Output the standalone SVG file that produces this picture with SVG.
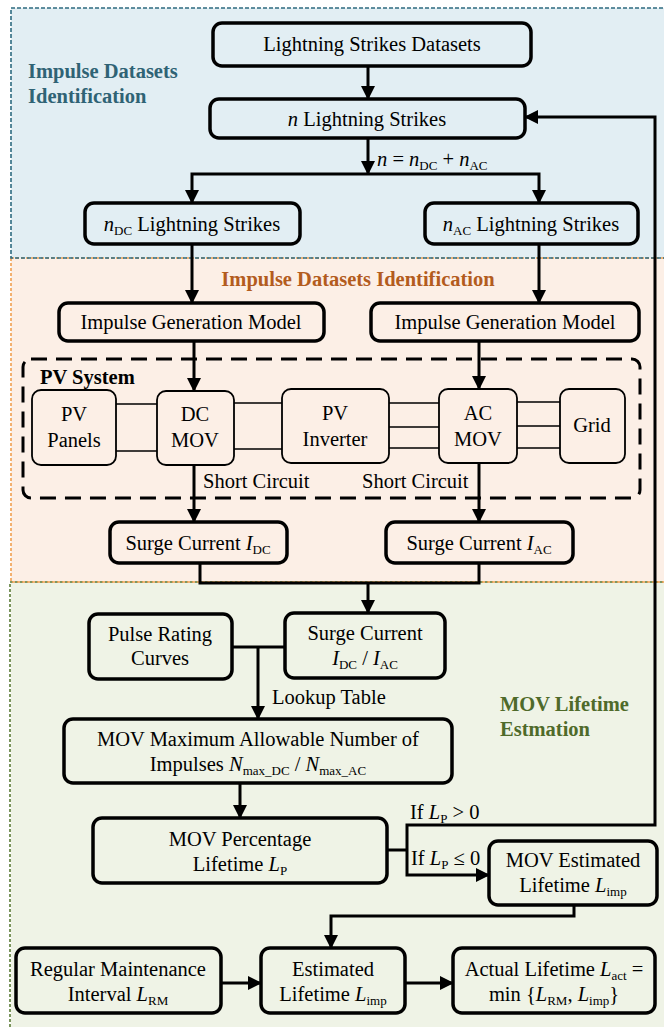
<svg xmlns="http://www.w3.org/2000/svg" width="664" height="1027" viewBox="0 0 664 1027">
<style>
text{font-family:"Liberation Serif","Times New Roman",serif;font-size:20.5px;fill:#000}
.c{text-anchor:middle}
.b{font-weight:bold}
.i{font-style:italic}
.s{font-size:13px}
.node{fill:none;stroke:#000;stroke-width:3.5}
.sub{fill:none;stroke:#000;stroke-width:1.8}
.wire{fill:none;stroke:#000;stroke-width:1.5}
.con{fill:none;stroke:#000;stroke-width:3}
.arr{marker-end:url(#ah)}
</style>
<defs>
<marker id="ah" markerWidth="14" markerHeight="14" refX="13" refY="7" orient="auto" markerUnits="userSpaceOnUse">
<path d="M0,0 L14,7 L0,14 z" fill="#000"/>
</marker>
</defs>
<g id="regions">
<rect x="11" y="8" width="665" height="250" fill="#e2eef3"/>
<rect x="11" y="258" width="665" height="324" fill="#fcefe6"/>
<rect x="11" y="582" width="665" height="460" fill="#eff3e6"/>
<rect x="10" y="582" width="665" height="460" fill="none" stroke="#5a7a35" stroke-width="1.6" stroke-dasharray="3 2"/>
<rect x="11" y="258" width="665" height="324" fill="none" stroke="#f0a050" stroke-width="1.6" stroke-dasharray="3 2"/>
<rect x="11" y="8" width="665" height="250" fill="none" stroke="#2e6b80" stroke-width="1.6" stroke-dasharray="4 2"/>
<text x="28" y="78" class="b" fill="#2f6375" style="fill:#2f6375">Impulse Datasets</text>
<text x="28" y="103" class="b" style="fill:#2f6375">Identification</text>
<text x="358" y="286" class="b c" style="fill:#b35c1e">Impulse Datasets Identification</text>
<text x="500" y="711" class="b" style="fill:#4f6a2a">MOV Lifetime</text>
<text x="500" y="736" class="b" style="fill:#4f6a2a">Estmation</text>
</g>
<g id="connectors">
<path class="con arr" d="M368,66 V99"/>
<path class="con arr" d="M368,138 V174"/>
<path class="con arr" d="M368,174 H192 V203"/>
<path class="con arr" d="M368,174 H539 V203"/>
<path class="con arr" d="M192,244 V303"/>
<path class="con arr" d="M539,244 V303"/>
<path class="con arr" d="M194,341 V391"/>
<path class="con arr" d="M479,341 V389"/>
<path class="con arr" d="M194,465 V522"/>
<path class="con arr" d="M479,463 V522"/>
<path class="con" d="M200,563 V583 H479 V563"/>
<path class="con arr" d="M368,583 V613"/>
<path class="con" d="M232,647 H285"/>
<path class="con arr" d="M258,647 V719"/>
<path class="con arr" d="M240,783 V818"/>
<path class="con" d="M387,850 H407"/>
<path class="con arr" d="M407,850 V825 H655 V117 H525"/>
<path class="con arr" d="M407,850 V875 H489"/>
<path class="con arr" d="M574,905 V916 H331 V948"/>
<path class="con arr" d="M221,983 H261"/>
<path class="con arr" d="M405,983 H453"/>
<path class="wire" d="M116,404 H157 M116,451 H157"/>
<path class="wire" d="M234,403 H282 M234,449 H282"/>
<path class="wire" d="M389,403 H439 M389,427 H439 M389,448 H439"/>
<path class="wire" d="M517,402 H560 M517,426 H560 M517,448 H560"/>
<text x="377" y="166"><tspan class="i">n</tspan> = <tspan class="i">n</tspan><tspan class="s" dy="4">DC</tspan><tspan dy="-4"> + </tspan><tspan class="i">n</tspan><tspan class="s" dy="4">AC</tspan></text>
<text x="203" y="488">Short Circuit</text>
<text x="362" y="488">Short Circuit</text>
<text x="272" y="704">Lookup Table</text>
<text x="410" y="819">If <tspan class="i">L</tspan><tspan class="s" dy="4">P</tspan><tspan dy="-4"> &gt; 0</tspan></text>
<text x="411" y="865">If <tspan class="i">L</tspan><tspan class="s" dy="4">P</tspan><tspan dy="-4"> ≤ 0</tspan></text>
</g>
<g id="n1"><rect class="node" x="213" y="23" width="318" height="43" rx="9"/><text class="c" x="372" y="51">Lightning Strikes Datasets</text></g>
<g id="n2"><rect class="node" x="210" y="99" width="315" height="39" rx="9"/><text class="c" x="367" y="126"><tspan class="i">n</tspan> Lightning Strikes</text></g>
<g id="n3"><rect class="node" x="85" y="203" width="215" height="41" rx="9"/><text class="c" x="192" y="231"><tspan class="i">n</tspan><tspan class="s" dy="4">DC</tspan><tspan dy="-4"> Lightning Strikes</tspan></text></g>
<g id="n4"><rect class="node" x="425" y="203" width="213" height="41" rx="9"/><text class="c" x="531" y="231"><tspan class="i">n</tspan><tspan class="s" dy="4">AC</tspan><tspan dy="-4"> Lightning Strikes</tspan></text></g>
<g id="n5"><rect class="node" x="59" y="303" width="265" height="38" rx="9"/><text class="c" x="191" y="329">Impulse Generation Model</text></g>
<g id="n6"><rect class="node" x="371" y="303" width="268" height="38" rx="9"/><text class="c" x="505" y="329">Impulse Generation Model</text></g>
<g id="pvsystem"><rect x="23" y="359" width="617" height="139" rx="8" fill="none" stroke="#000" stroke-width="3" stroke-dasharray="16 9"/><text class="b" x="40" y="384">PV System</text></g>
<g id="pvpanels"><rect class="sub" x="32" y="390" width="84" height="75" rx="9"/><text class="c" x="74" y="421">PV</text><text class="c" x="74" y="447">Panels</text></g>
<g id="dcmov"><rect class="sub" x="157" y="391" width="77" height="74" rx="9"/><text class="c" x="195" y="421">DC</text><text class="c" x="195" y="447">MOV</text></g>
<g id="inverter"><rect class="sub" x="282" y="389" width="107" height="74" rx="9"/><text class="c" x="335" y="420">PV</text><text class="c" x="335" y="446">Inverter</text></g>
<g id="acmov"><rect class="sub" x="439" y="389" width="78" height="74" rx="9"/><text class="c" x="478" y="420">AC</text><text class="c" x="478" y="446">MOV</text></g>
<g id="grid"><rect class="sub" x="560" y="389" width="65" height="74" rx="9"/><text class="c" x="592" y="432">Grid</text></g>
<g id="n7"><rect class="node" x="110" y="522" width="177" height="41" rx="9"/><text class="c" x="198" y="550">Surge Current <tspan class="i">I</tspan><tspan class="s" dy="4">DC</tspan></text></g>
<g id="n8"><rect class="node" x="386" y="522" width="187" height="41" rx="9"/><text class="c" x="479" y="550">Surge Current <tspan class="i">I</tspan><tspan class="s" dy="4">AC</tspan></text></g>
<g id="n9"><rect class="node" x="89" y="614" width="143" height="65" rx="9"/><text class="c" x="160" y="641">Pulse Rating</text><text class="c" x="160" y="665">Curves</text></g>
<g id="n10"><rect class="node" x="285" y="613" width="160" height="65" rx="9"/><text class="c" x="365" y="640">Surge Current</text><text class="c" x="365" y="665"><tspan class="i">I</tspan><tspan class="s" dy="4">DC</tspan><tspan dy="-4"> / </tspan><tspan class="i">I</tspan><tspan class="s" dy="4">AC</tspan></text></g>
<g id="n11"><rect class="node" x="64" y="719" width="388" height="64" rx="9"/><text class="c" x="258" y="746">MOV Maximum Allowable Number of</text><text class="c" x="258" y="771">Impulses <tspan class="i">N</tspan><tspan class="s" dy="4">max_DC</tspan><tspan dy="-4"> / </tspan><tspan class="i">N</tspan><tspan class="s" dy="4">max_AC</tspan></text></g>
<g id="n12"><rect class="node" x="93" y="818" width="294" height="65" rx="9"/><text class="c" x="240" y="846">MOV Percentage</text><text class="c" x="240" y="871">Lifetime <tspan class="i">L</tspan><tspan class="s" dy="4">P</tspan></text></g>
<g id="n13"><rect class="node" x="489" y="841" width="168" height="64" rx="9"/><text class="c" x="573" y="867">MOV Estimated</text><text class="c" x="573" y="892">Lifetime <tspan class="i">L</tspan><tspan class="s" dy="4">imp</tspan></text></g>
<g id="n14"><rect class="node" x="16" y="948" width="205" height="65" rx="9"/><text class="c" x="118" y="976">Regular Maintenance</text><text class="c" x="118" y="1001">Interval <tspan class="i">L</tspan><tspan class="s" dy="4">RM</tspan></text></g>
<g id="n15"><rect class="node" x="261" y="948" width="144" height="65" rx="9"/><text class="c" x="333" y="976">Estimated</text><text class="c" x="333" y="1001">Lifetime <tspan class="i">L</tspan><tspan class="s" dy="4">imp</tspan></text></g>
<g id="n16"><rect class="node" x="453" y="948" width="202" height="65" rx="9"/><text class="c" x="554" y="976">Actual Lifetime <tspan class="i">L</tspan><tspan class="s" dy="4">act</tspan><tspan dy="-4"> =</tspan></text><text class="c" x="554" y="1001">min {<tspan class="i">L</tspan><tspan class="s" dy="4">RM</tspan><tspan dy="-4">, </tspan><tspan class="i">L</tspan><tspan class="s" dy="4">imp</tspan><tspan dy="-4">}</tspan></text></g>
</svg>
